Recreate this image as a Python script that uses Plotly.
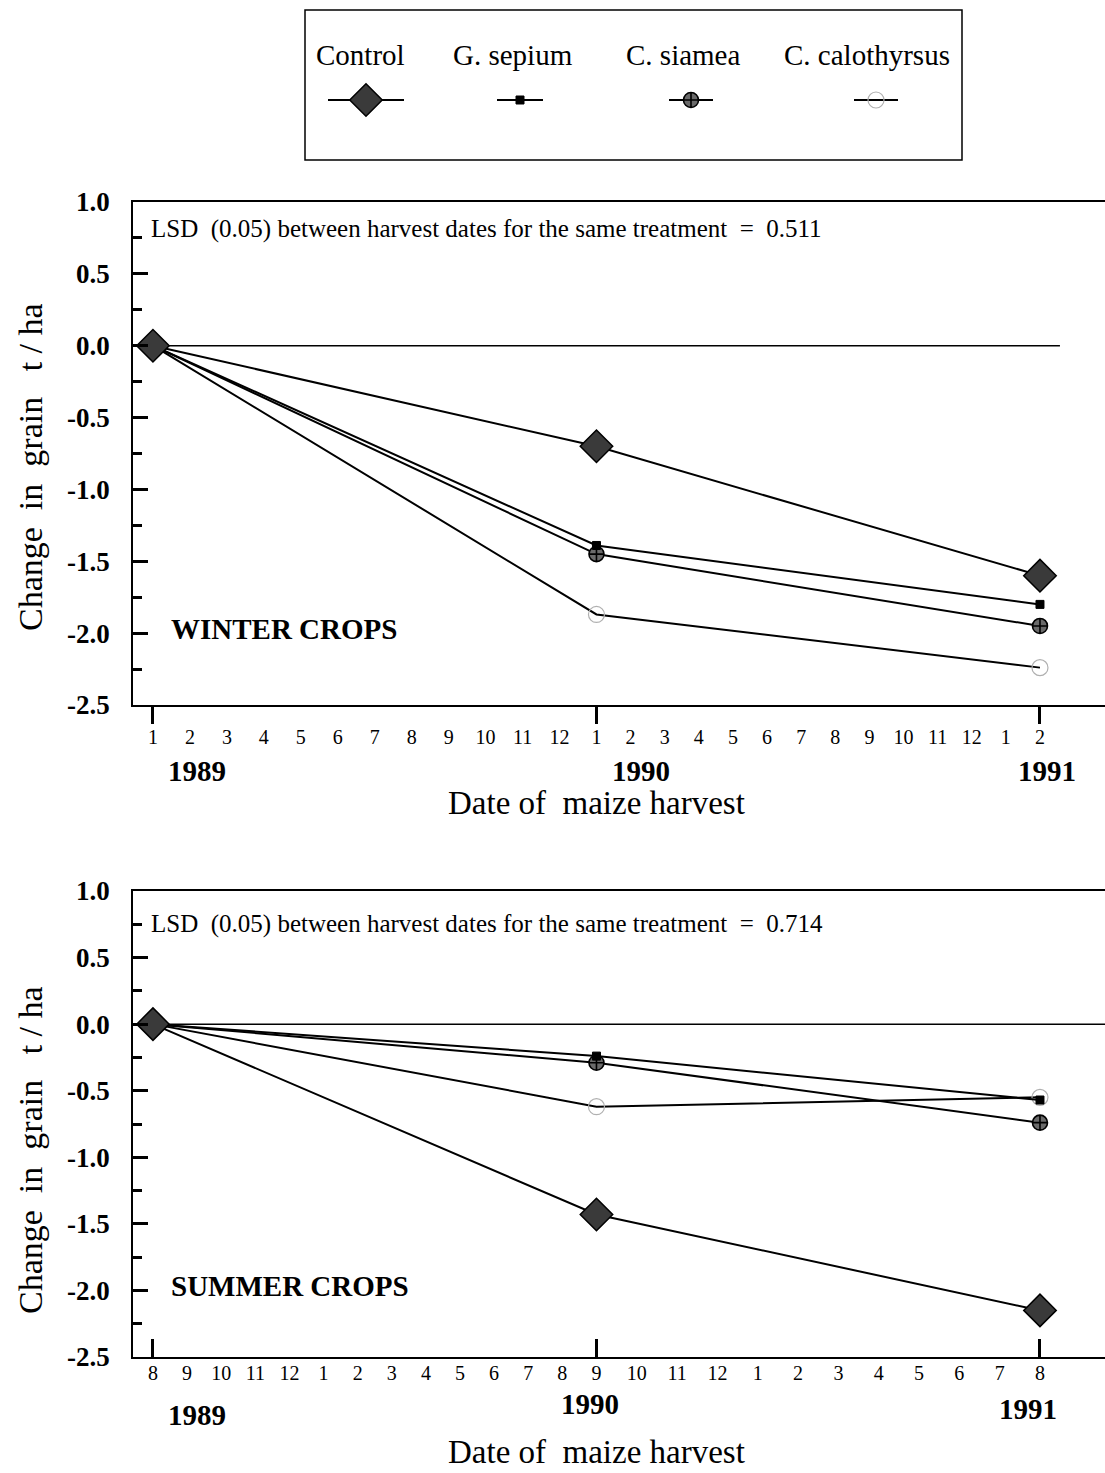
import numpy as np
import plotly.graph_objects as go

# ---- data -------------------------------------------------------------
treatments = ["Control", "G. sepium", "C. siamea", "C. calothyrsus"]
harvest_years = ["1989", "1990", "1991"]

# change in grain yield (t/ha) at the three harvests
winter_control = [0.0, -0.70, -1.60]
winter_sepium = [0.0, -1.39, -1.80]
winter_siamea = [0.0, -1.45, -1.95]
winter_calothyrsus = [0.0, -1.87, -2.24]

summer_control = [0.0, -1.43, -2.15]
summer_sepium = [0.0, -0.24, -0.57]
summer_siamea = [0.0, -0.29, -0.74]
summer_calothyrsus = [0.0, -0.62, -0.55]

# month labels along the time axis; harvests fall on the listed label indices
winter_months = ["1", "2", "3", "4", "5", "6", "7", "8", "9", "10", "11", "12",
                 "1", "2", "3", "4", "5", "6", "7", "8", "9", "10", "11", "12",
                 "1", "2"]
winter_harvest_idx = [0, 12, 25]
summer_months = ["8", "9", "10", "11", "12", "1", "2", "3", "4", "5", "6", "7",
                 "8", "9", "10", "11", "12", "1", "2", "3", "4", "5", "6", "7", "8"]
summer_harvest_idx = [0, 13, 24]

y_ticks = [-2.5, -2.0, -1.5, -1.0, -0.5, 0.0, 0.5, 1.0]

lsd_winter = 0.511
lsd_summer = 0.714

# ---- styling ----------------------------------------------------------
W, H = 1105, 1473
SERIF = "Liberation Serif"
harvest_pos = [0, 1, 2]
XR = [-0.045, 2.1466]

styles = {
    "Control": dict(symbol="diamond", size=25, color="#3a3a3a",
                    line=dict(color="black", width=1.5)),
    "G. sepium": dict(symbol="square", size=8, color="black",
                      line=dict(color="black", width=1)),
    "C. siamea": dict(symbol="circle-cross", size=15, color="#6a6a6a",
                      line=dict(color="black", width=1.6)),
    "C. calothyrsus": dict(symbol="circle-open", size=16, color="#b0b0b0",
                           line=dict(color="#b0b0b0", width=1.2)),
}


def py(px):
    """pixel row -> paper y"""
    return 1 - px / H


def px_x(px):
    return px / W


fig = go.Figure()

panels = [
    dict(xa="x", ya="y", ov="x4", vals=[winter_control, winter_sepium, winter_siamea, winter_calothyrsus],
         months=winter_months, hidx=winter_harvest_idx, dom=[py(705), py(202)],
         label="WINTER CROPS", lsd=lsd_winter, tick_side="outside", zero_end=2.045,
         month_standoff=13),
    dict(xa="x2", ya="y2", ov="x5", vals=[summer_control, summer_sepium, summer_siamea, summer_calothyrsus],
         months=summer_months, hidx=summer_harvest_idx, dom=[py(1357), py(891)],
         label="SUMMER CROPS", lsd=lsd_summer, tick_side="inside", zero_end=XR[1],
         month_standoff=-3),
]

ytick_text = [f"{v:.1f}" for v in y_ticks]

for k, p in enumerate(panels):
    # zero reference line
    fig.add_trace(go.Scatter(x=[XR[0], p["zero_end"]], y=[0, 0], mode="lines",
                             line=dict(color="black", width=1.5),
                             xaxis=p["xa"], yaxis=p["ya"], showlegend=False,
                             hoverinfo="skip"))
    # draw calothyrsus first so the darker markers sit on top
    for name, vals in list(zip(treatments, p["vals"]))[::-1]:
        fig.add_trace(go.Scatter(x=harvest_pos, y=vals, mode="lines+markers",
                                 name=name, line=dict(color="black", width=2),
                                 marker=styles[name], xaxis=p["xa"], yaxis=p["ya"],
                                 showlegend=False))
    # empty trace so the overlaid harvest-tick axis gets drawn
    fig.add_trace(go.Scatter(x=[None], y=[None], xaxis=p["ov"], yaxis=p["ya"],
                             showlegend=False, hoverinfo="skip"))

    # month tick positions: evenly spaced between consecutive harvests
    tickpos = np.interp(np.arange(len(p["months"])), p["hidx"], harvest_pos)
    sfx = "" if k == 0 else "2"
    fig.update_layout(**{
        "xaxis" + sfx: dict(
            domain=[px_x(133), 1], range=XR, anchor="y" + sfx,
            tickmode="array", tickvals=tickpos, ticktext=p["months"], ticks="",
            tickfont=dict(family=SERIF, size=20, color="black"),
            ticklabelstandoff=p["month_standoff"],
            showline=True, mirror=True, linecolor="black", linewidth=1.5,
            showgrid=False, zeroline=False, automargin=False, fixedrange=True),
        "yaxis" + sfx: dict(
            domain=p["dom"], range=[-2.5, 1.0], anchor="x" + sfx,
            tickmode="array", tickvals=y_ticks, ticktext=ytick_text,
            ticks="inside", ticklen=15, tickwidth=3, tickcolor="black",
            minor=dict(ticks="inside", dtick=0.25, tick0=-2.5, ticklen=9,
                       tickwidth=2.5, tickcolor="black"),
            tickfont=dict(family=SERIF, size=27, color="black", weight="bold"),
            ticklabelstandoff=16,
            showline=True, mirror=False, linecolor="black", linewidth=1.5,
            showgrid=False, zeroline=False, automargin=False, fixedrange=True),
        # heavy harvest ticks on an overlaid axis
        "xaxis" + p["ov"][1:]: dict(
            overlaying=p["xa"], anchor=p["ya"], side="bottom", range=XR,
            tickmode="array", tickvals=harvest_pos, showticklabels=False,
            ticks=p["tick_side"], ticklen=18, tickwidth=3, tickcolor="black",
            showline=False, showgrid=False, zeroline=False, fixedrange=True),
    })

    # panel labels
    fig.add_annotation(x=XR[0], xref=p["xa"], y=-1.97, yref=p["ya"], xshift=36,
                       text="<b>" + p["label"] + "</b>", showarrow=False,
                       xanchor="left", yanchor="middle",
                       font=dict(family=SERIF, size=29, color="black"))
    fig.add_annotation(x=XR[0], xref=p["xa"], y=0.815 if k == 0 else 0.755, yref=p["ya"],
                       xshift=16, xanchor="left", yanchor="middle", showarrow=False,
                       text="LSD\u00a0 (0.05) between harvest dates for the same treatment\u00a0 =\u00a0 "
                            + f"{p['lsd']:.3f}",
                       font=dict(family=SERIF, size=25, color="black"))

# year labels under the harvest ticks
year_rows = [(771, 771, 771), (1415, 1404, 1409)]
year_shift = [(44, 45, 7), (44, -6, -12)]
for k, p in enumerate(panels):
    for j, yr in enumerate(harvest_years):
        fig.add_annotation(x=harvest_pos[j], xref=p["xa"], y=py(year_rows[k][j]),
                           yref="paper", xshift=year_shift[k][j], showarrow=False,
                           xanchor="center", yanchor="middle",
                           text="<b>" + yr + "</b>",
                           font=dict(family=SERIF, size=29, color="black"))

# axis titles
ytitle = "Change\u00a0 in\u00a0 grain\u00a0\u00a0 t / ha"
for yc, xc in [(467, 803), (1150, 1452)]:
    fig.add_annotation(x=px_x(30), y=py(yc), xref="paper", yref="paper", text=ytitle,
                       textangle=-90, showarrow=False, xanchor="center", yanchor="middle",
                       font=dict(family=SERIF, size=34, color="black"))
    fig.add_annotation(x=px_x(596), y=py(xc), xref="paper", yref="paper",
                       text="Date of\u00a0 maize harvest", showarrow=False,
                       xanchor="center", yanchor="middle",
                       font=dict(family=SERIF, size=33, color="black"))

# ---- legend key drawn in its own box ------------------------------------
box = dict(x0=305, x1=962, y0=10, y1=160)
fig.add_shape(type="rect", xref="paper", yref="paper",
              x0=px_x(box["x0"]), x1=px_x(box["x1"]), y0=py(box["y1"]), y1=py(box["y0"]),
              line=dict(color="black", width=1.5))
key_centres = [366, 520, 691, 876]
key_text_centres = [360, 513, 683, 867]
key_halfwidth = [38, 23, 22, 22]
fig.update_layout(
    xaxis3=dict(domain=[px_x(box["x0"]), px_x(box["x1"])], range=[box["x0"], box["x1"]],
                visible=False, anchor="y3", fixedrange=True),
    yaxis3=dict(domain=[py(box["y1"]), py(box["y0"])], range=[box["y1"], box["y0"]],
                visible=False, anchor="x3", fixedrange=True),
)
for name, cx, tx, hw in zip(treatments, key_centres, key_text_centres, key_halfwidth):
    fig.add_trace(go.Scatter(x=[cx - hw, cx + hw], y=[100, 100], mode="lines",
                             line=dict(color="black", width=2), xaxis="x3", yaxis="y3",
                             showlegend=False, hoverinfo="skip"))
    fig.add_trace(go.Scatter(x=[cx], y=[100], mode="markers", marker=styles[name],
                             xaxis="x3", yaxis="y3", showlegend=False, hoverinfo="skip"))
    fig.add_annotation(x=tx, y=55, xref="x3", yref="y3", text=name, showarrow=False,
                       font=dict(family=SERIF, size=29, color="black"))

fig.update_layout(width=W, height=H, margin=dict(l=0, r=0, t=0, b=0),
                  paper_bgcolor="white", plot_bgcolor="white", showlegend=False)

fig.write_html("out.html")
